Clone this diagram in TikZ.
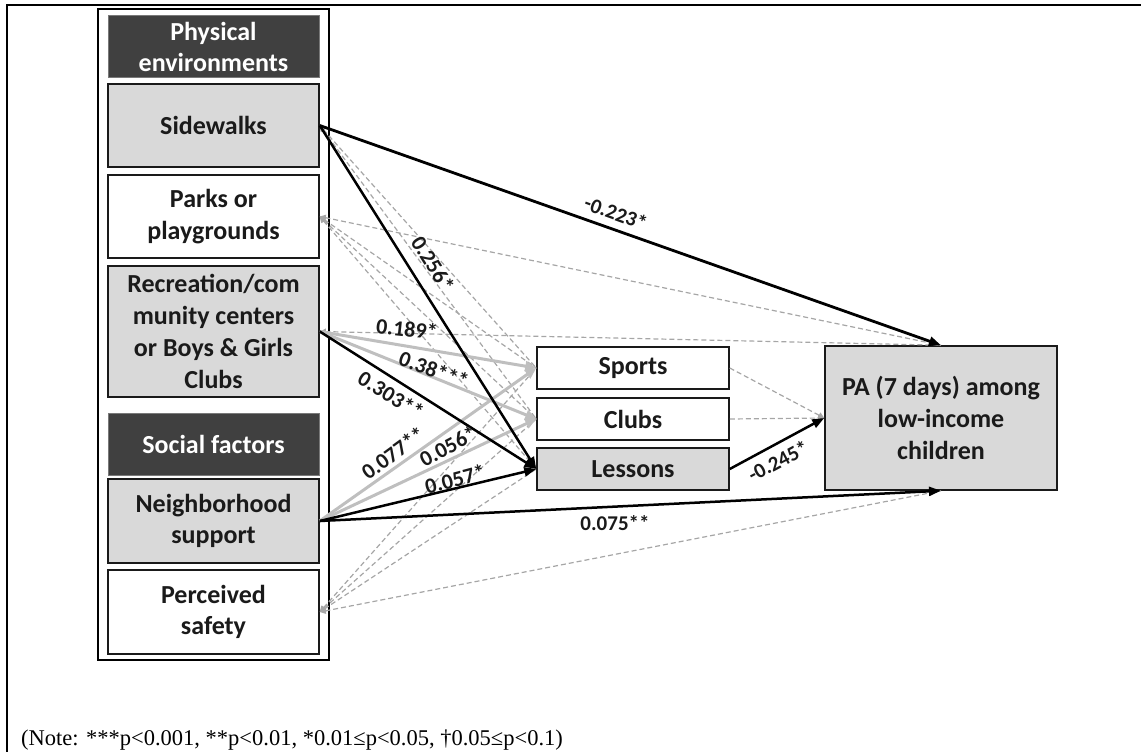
\documentclass[tikz,border=0pt]{standalone}
\usepackage{fontspec}
\setmainfont{Carlito}
\newfontfamily\notefont{Liberation Serif}
\usetikzlibrary{arrows.meta}

\definecolor{boxgray}{HTML}{D9D9D9}
\definecolor{headgray}{HTML}{404040}
\definecolor{dashgray}{HTML}{A6A6A6}
\definecolor{pathgray}{HTML}{BFBFBF}
\definecolor{ink}{HTML}{1A1A1A}

\begin{document}
\begin{tikzpicture}[x=1pt,y=-1pt,
  boxtext/.style={font=\fontsize{26}{31.7}\selectfont\bfseries, text=ink, align=center, inner sep=0pt},
  varbox/.style={boxtext, rectangle, draw=ink, line width=1.5pt, fill=white},
  graybox/.style={varbox, fill=boxgray},
  headbox/.style={boxtext, rectangle, draw=headgray!70, line width=1pt, fill=headgray, text=white,
                  minimum width=211pt},
  leftbox/.style={minimum width=211pt},
  medbox/.style={minimum width=192pt, minimum height=42pt},
  coef/.style={font=\fontsize{22}{26}\selectfont\bfseries, text=ink, inner sep=0pt},
  coefs/.style={font=\fontsize{21}{25}\selectfont\bfseries, text=ink, inner sep=0pt},
  sigpath/.style={line width=2.5pt, draw=black, -{Triangle[length=12pt,width=9pt]}},
  medpath/.style={line width=3pt, draw=pathgray, -{Triangle[length=11pt,width=10pt,fill=pathgray]}},
  nspath/.style={line width=1.2pt, draw=dashgray, dash pattern=on 5pt off 3pt,
                 {Triangle[length=6pt,width=6pt,fill=dashgray]}-},
  nsfwd/.style={line width=1.2pt, draw=dashgray, dash pattern=on 5pt off 3pt,
                -{Triangle[length=6pt,width=6pt,fill=dashgray]}}
]
\useasboundingbox (0,0) rectangle (1141,752);

% outer frame
\draw[line width=2pt, black] (7,752) -- (7,5) -- (1141,5);

% group frame around the predictors
\draw[line width=2.5pt, black] (98,9) rectangle (329,660);

% predictors
\node[headbox, minimum height=62pt] (phys) at (213.5,47) {Physical\\environments};
\node[graybox, leftbox, minimum height=83pt] (side) at (213.5,125.5) {Sidewalks};
\node[varbox, leftbox, minimum height=83pt] (park) at (213.5,216.5) {Parks or\\playgrounds};
\node[graybox, leftbox, minimum height=131pt] (recr) at (213.5,331.5) {Recreation/com\\munity centers\\or Boys \& Girls\\Clubs};
\node[headbox, minimum height=62pt] (soc) at (213.5,444) {Social factors};
\node[graybox, leftbox, minimum height=84pt] (neig) at (213.5,521) {Neighborhood\\support};
\node[varbox, leftbox, minimum height=84pt] (safe) at (213.5,612) {Perceived\\safety};

% mediators
\node[varbox, medbox] (sport) at (633,368) {Sports};
\node[varbox, medbox] (club) at (633,419) {Clubs};
\node[graybox, medbox] (less) at (633,469) {Lessons};

% outcome
\node[graybox, minimum width=232pt, minimum height=144pt] (pa) at (941,418) {PA (7 days) among\\low-income\\children};

% non-significant paths
\draw[nspath] (side.east) -- (sport.west);
\draw[nspath] (side.east) -- (club.west);
\draw[nspath] (park.east) -- (sport.west);
\draw[nspath] (park.east) -- (club.west);
\draw[nspath] (park.east) -- (less.west);
\draw[nspath] (park.east) -- (pa.north);
\draw[nspath] (recr.east) -- (pa.north);
\draw[nspath] (safe.east) -- (sport.west);
\draw[nspath] (safe.east) -- (club.west);
\draw[nspath] (safe.east) -- (less.west);
\draw[nspath] (safe.east) -- (pa.south);
\draw[nsfwd] (sport.east) -- (pa.west);
\draw[nsfwd] (club.east) -- (pa.west);

% significant paths to sports and clubs
\draw[medpath] (recr.east) -- (sport.west);
\draw[medpath] (recr.east) -- (club.west);
\draw[medpath] (neig.east) -- (sport.west);
\draw[medpath] (neig.east) -- (club.west);

% significant paths to lessons and PA
\draw[sigpath, line width=2.8pt] (side.east) -- (pa.north);
\draw[sigpath] (side.east) -- (less.west);
\draw[sigpath] (recr.east) -- (less.west);
\draw[sigpath] (neig.east) -- (less.west);
\draw[sigpath] (neig.east) -- (pa.south);
\draw[sigpath] (less.east) -- (pa.west);

% coefficients
\node[coefs, rotate=-20] (c1) at (616,213) {-0.223*};
\node[coef, rotate=-58] (c2) at (433,264) {0.256*};
\node[coef, rotate=-6] (c3) at (407,329) {0.189*};
\node[coef, rotate=-20] (c4) at (434,370) {0.38***};
\node[coef, rotate=-32] (c5) at (391,395) {0.303**};
\node[coef, rotate=36] (c6) at (393,453) {0.077**};
\node[coef, rotate=28] (c7) at (448,446) {0.056*};
\node[coef, rotate=15] (c8) at (455,479) {0.057*};
\node[coefs] (c9) at (615,523) {0.075**};
\node[coefs, rotate=28] (c10) at (778,461) {-0.245*};

% significance note
\node[anchor=west, inner sep=0pt, font=\notefont\fontsize{22.5}{27}\selectfont] (note) at (21,740)
  {(Note: ***p<0.001, **p<0.01, *0.01≤p<0.05, †0.05≤p<0.1)};
\end{tikzpicture}
\end{document}
